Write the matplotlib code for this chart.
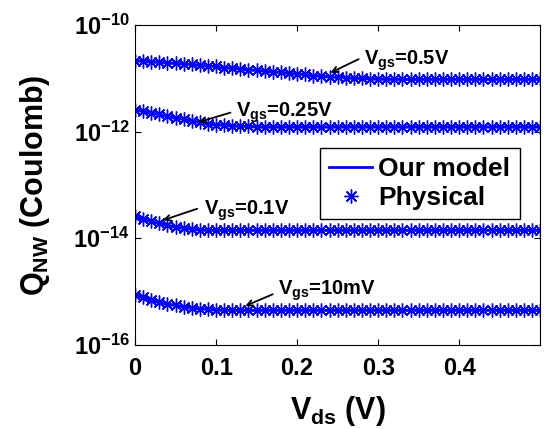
import numpy as np
import matplotlib
matplotlib.use('Agg')
import matplotlib.pyplot as plt
from matplotlib.lines import Line2D

plt.rcParams['font.family'] = 'Liberation Sans'
plt.rcParams['font.weight'] = 'bold'
plt.rcParams['axes.labelweight'] = 'bold'
plt.rcParams['mathtext.fontset'] = 'custom'
plt.rcParams['mathtext.rm'] = 'Liberation Sans:bold'
plt.rcParams['mathtext.it'] = 'Liberation Sans:bold'
plt.rcParams['mathtext.bf'] = 'Liberation Sans:bold'

# drain voltage (V), step 0.01
vds = np.round(np.arange(0, 0.501, 0.01), 2)

# log10 of charge (C)
logq_05 = [-10.67, -10.68, -10.69, -10.70, -10.71, -10.72, -10.73, -10.74, -10.76, -10.77,
           -10.78, -10.80, -10.81, -10.82, -10.84, -10.85, -10.87, -10.88, -10.89, -10.91,
           -10.92, -10.93, -10.95, -10.96, -10.97, -10.98, -10.99, -11.00, -11.00, -11.01,
           -11.01] + [-11.02] * 20
logq_025 = [-11.59, -11.62, -11.65, -11.68, -11.71, -11.74, -11.77, -11.80, -11.83, -11.85,
            -11.87, -11.88, -11.89, -11.90, -11.90] + [-11.91] * 36
logq_01 = [-13.59, -13.63, -13.68, -13.72, -13.76, -13.79, -13.81, -13.83, -13.84] + [-13.85] * 42
logq_10m = [-15.06, -15.10, -15.15, -15.19, -15.23, -15.26, -15.28, -15.30, -15.32, -15.33,
            -15.34] + [-15.35] * 40

curves = [logq_05, logq_025, logq_01, logq_10m]

# annotation: label, arrow head (x, log q), arrow tail (x, log q), text pos (x, log q)
notes = [
    (r'$V_{gs}$=0.5V',  (0.238, -10.92), (0.279, -10.62), (0.283, -10.75)),
    (r'$V_{gs}$=0.25V', (0.075, -11.84), (0.121, -11.63), (0.125, -11.73)),
    (r'$V_{gs}$=0.1V',  (0.031, -13.68), (0.080, -13.43), (0.085, -13.56)),
    (r'$V_{gs}$=10mV',  (0.133, -15.29), (0.173, -15.03), (0.177, -15.06)),
]

fig = plt.figure(figsize=(5.49, 4.29), dpi=100)
ax = fig.add_axes([0.246, 0.196, 0.738, 0.746])

star = (8, 2, 0)
for lq in curves:
    q = 10 ** np.array(lq)
    ax.plot(vds, q, color='b', lw=2.0)
    ax.plot(vds, q, ls='none', marker=star, ms=10, mec='b', mew=1.0, color='b')

for label, head, tail, txt in notes:
    ax.annotate('', xy=(head[0], 10 ** head[1]), xytext=(tail[0], 10 ** tail[1]),
                arrowprops=dict(arrowstyle='->', color='k', lw=1.3))
    ax.text(txt[0], 10 ** txt[1], label, fontsize=14.5, ha='left', va='baseline')

ax.set_yscale('log')
ax.set_xlim(0, 0.5)
ax.set_ylim(1e-16, 1e-10)
ax.set_xticks([0, 0.1, 0.2, 0.3, 0.4])
ax.set_xticklabels(['0', '0.1', '0.2', '0.3', '0.4'])
ax.set_yticks([1e-16, 1e-14, 1e-12, 1e-10])
ax.set_yticklabels([r'$10^{-16}$', r'$10^{-14}$', r'$10^{-12}$', r'$10^{-10}$'])
ax.minorticks_off()
ax.tick_params(direction='in', top=True, right=True, length=4)
ax.tick_params(axis='x', labelsize=17, pad=9)
ax.tick_params(axis='y', labelsize=17, pad=4)

ax.set_xlabel(r'$V_{ds}$ (V)', fontsize=22, labelpad=10)
ax.set_ylabel(r'$Q_{NW}$ (Coulomb)', fontsize=22, labelpad=15)

handles = [Line2D([], [], color='b', lw=2.0),
           Line2D([], [], ls='none', marker=star, ms=10, mec='b', mew=1.0)]
leg = ax.legend(handles, ['Our model', 'Physical'], loc='upper left',
                bbox_to_anchor=(0.457, 0.616), fontsize=19, frameon=True,
                fancybox=False, edgecolor='k', framealpha=1, handlelength=1.6,
                handletextpad=0.25, borderpad=0.35, labelspacing=0.18, borderaxespad=0)
leg.get_frame().set_linewidth(1.0)

fig.savefig('out.png', dpi=100)
